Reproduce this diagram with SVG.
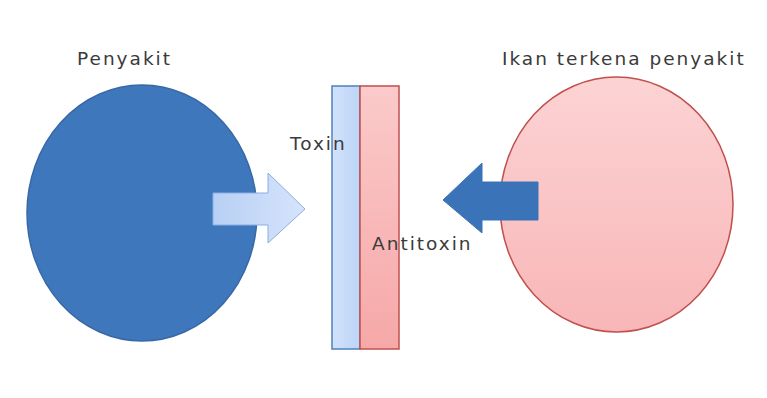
<svg xmlns="http://www.w3.org/2000/svg" width="767" height="398" viewBox="0 0 767 398">
<defs>
<linearGradient id="gBlueBar" x1="0" y1="0" x2="1" y2="0"><stop offset="0" stop-color="#d2e2fb"/><stop offset="1" stop-color="#bcd4f6"/></linearGradient>
<linearGradient id="gRedBar" x1="0" y1="0" x2="0" y2="1"><stop offset="0" stop-color="#fbcaca"/><stop offset="1" stop-color="#f6a8a8"/></linearGradient>
<linearGradient id="gPink" x1="0" y1="0" x2="0" y2="1"><stop offset="0" stop-color="#fcd3d4"/><stop offset="1" stop-color="#f8b6b7"/></linearGradient>
<linearGradient id="gArrow" x1="0" y1="0" x2="1" y2="0"><stop offset="0" stop-color="#b7d0f4"/><stop offset="1" stop-color="#d6e4fb"/></linearGradient>
</defs>
<style>
text{font-family:"DejaVu Sans",Verdana,sans-serif;fill:#3a3a3a;font-size:18.5px;letter-spacing:2px}
</style>
<rect width="767" height="398" fill="#ffffff"/>
<g id="penyakit">
<ellipse cx="142" cy="213" rx="115" ry="128" fill="#3f77bd" stroke="#3868a6" stroke-width="1.5"/>
<text x="77" y="65">Penyakit</text>
</g>
<g id="ikan">
<ellipse cx="616.5" cy="204.5" rx="116.5" ry="127.5" fill="url(#gPink)" stroke="#c0504d" stroke-width="1.5"/>
<text x="502" y="65">Ikan terkena penyakit</text>
</g>
<g id="toxin">
<rect x="332" y="86" width="28" height="263" fill="url(#gBlueBar)" stroke="#4f81bd" stroke-width="1.5"/>
<text x="290" y="150">Toxin</text>
</g>
<g id="antitoxin">
<rect x="360" y="86" width="39" height="263" fill="url(#gRedBar)" stroke="#c0504d" stroke-width="1.5"/>
<text x="372" y="250">Antitoxin</text>
</g>
<g id="connectors">
<path d="M213 193 H268 V173 L305 209 L268 243 V225 H213 Z" fill="url(#gArrow)" stroke="#8aaee3" stroke-width="1"/>
<path d="M538 182 H482 V163 L443 200 L482 233 V220 H538 Z" fill="#3b73b9" stroke="#3b73b9" stroke-width="1"/>
</g>
</svg>
